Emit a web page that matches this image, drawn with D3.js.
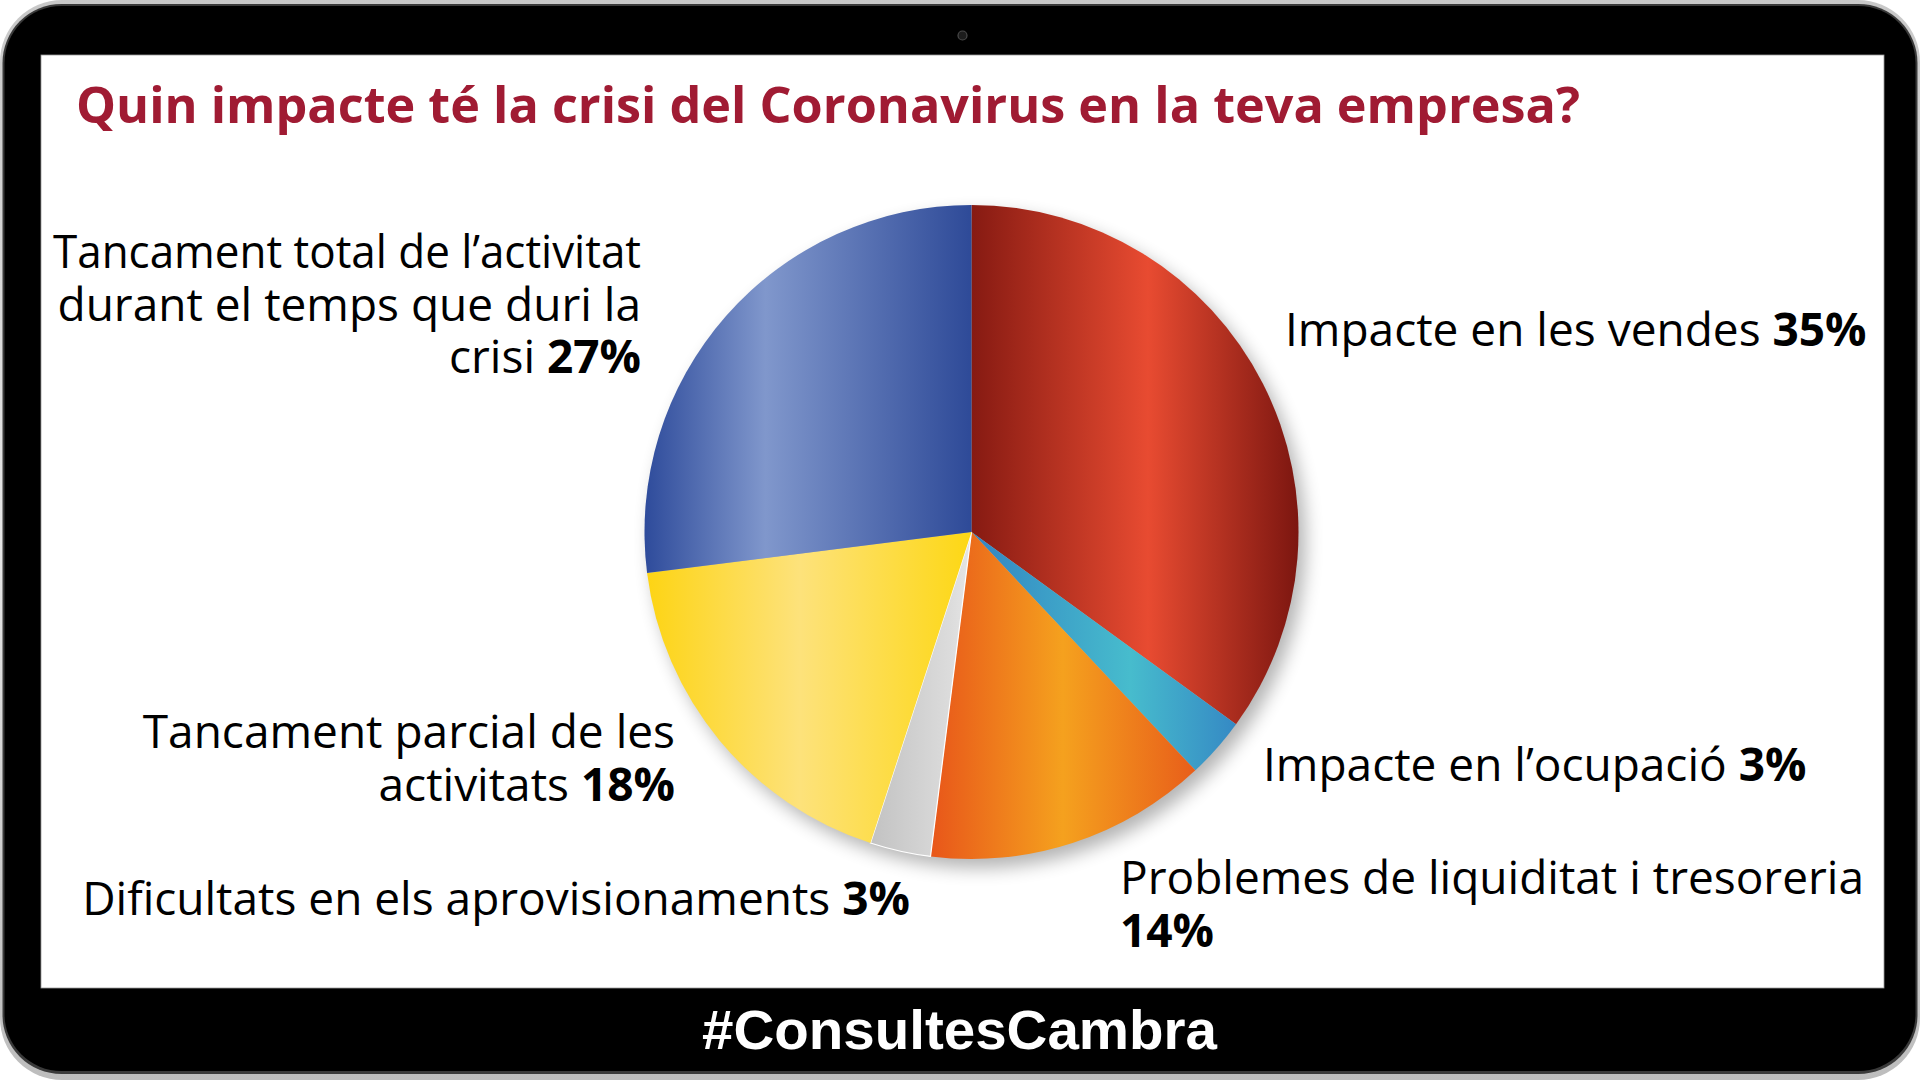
<!DOCTYPE html>
<html>
<head>
<meta charset="utf-8">
<script src="https://cdn.jsdelivr.net/npm/d3@7"></script>
<style>
  html, body { margin: 0; padding: 0; background: #ffffff; }
  svg { display: block; }
</style>
</head>
<body>
<svg id="chart" width="1920" height="1080"></svg>
<script>
// ---------- data ----------
const title = "Quin impacte té la crisi del Coronavirus en la teva empresa?";
const hashtag = "#ConsultesCambra";
const categories = [
  "Impacte en les vendes",
  "Impacte en l’ocupació",
  "Problemes de liquiditat i tresoreria",
  "Dificultats en els aprovisionaments",
  "Tancament parcial de les activitats",
  "Tancament total de l’activitat durant el temps que duri la crisi"
];
const values = [35, 3, 14, 3, 18, 27];
// how each label is broken into lines (the bold percentage follows the last piece)
const labelLines = [
  ["Impacte en les vendes "],
  ["Impacte en l’ocupació "],
  ["Problemes de liquiditat i tresoreria", ""],
  ["Dificultats en els aprovisionaments "],
  ["Tancament parcial de les", "activitats "],
  ["Tancament total de l’activitat", "durant el temps que duri la", "crisi "]
];

// ---------- layout / style ----------
const W = 1920, H = 1080;
const cx = 971.5, cy = 532, R = 327;
const labelLayout = [
  { x: 1285, y: 346, anchor: "start" },
  { x: 1263, y: 781, anchor: "start" },
  { x: 1120, y: 894, anchor: "start" },
  { x: 910,  y: 915, anchor: "end" },
  { x: 675,  y: 748, anchor: "end" },
  { x: 641,  y: 268, anchor: "end", maxWidth: 588 }
];
const lineHeight = 52.6;
const palette = [
  [["0", "#861a12"], ["0.54", "#e84b31"], ["1", "#7c1610"]],
  [["0", "#3284c2"], ["0.6", "#47bccd"], ["1", "#3589c4"]],
  [["0", "#e8561a"], ["0.5", "#f5a11e"], ["1", "#e85e1a"]],
  [["0", "#c2c2c2"], ["0.8", "#dcdcdc"], ["1", "#e6e6e6"]],
  [["0", "#fdd414"], ["0.47", "#fde27b"], ["1", "#fdd714"]],
  [["0", "#2e4b9b"], ["0.37", "#8097cc"], ["1", "#2e4a98"]]
];

const svg = d3.select("#chart");
const defs = svg.append("defs");

// ---------- tablet frame ----------
const frameGrad = defs.append("linearGradient").attr("id", "frameGrad")
  .attr("x1", 0).attr("y1", 0).attr("x2", 0).attr("y2", 1);
frameGrad.append("stop").attr("offset", 0).attr("stop-color", "#c8c8c8");
frameGrad.append("stop").attr("offset", 0.5).attr("stop-color", "#e6e6e6");
frameGrad.append("stop").attr("offset", 1).attr("stop-color", "#bdbdbd");

svg.append("rect").attr("x", 0).attr("y", 0).attr("width", W).attr("height", H)
  .attr("rx", 62).attr("fill", "url(#frameGrad)");
svg.append("rect").attr("x", 2.5).attr("y", 4).attr("width", W - 5).attr("height", H - 10)
  .attr("rx", 59).attr("fill", "#3a3a3a");
svg.append("rect").attr("x", 4.5).attr("y", 6).attr("width", W - 9).attr("height", H - 15)
  .attr("rx", 57).attr("fill", "#000");
// screen
svg.append("rect").attr("x", 41).attr("y", 55).attr("width", 1843).attr("height", 933)
  .attr("fill", "#ffffff").attr("stroke", "#9a9a9a").attr("stroke-width", 0.8);
// camera
svg.append("circle").attr("cx", 962.5).attr("cy", 35.5).attr("r", 4.5)
  .attr("fill", "#1c1c1c").attr("stroke", "#4a4a4a").attr("stroke-width", 1.2);

// ---------- title ----------
svg.append("text")
  .attr("x", 76).attr("y", 123)
  .attr("font-family", "'Open Sans', sans-serif")
  .attr("font-weight", 700)
  .attr("font-size", 50)
  .attr("fill", "#a01b33")
  .attr("textLength", 1504)
  .attr("lengthAdjust", "spacingAndGlyphs")
  .text(title);

// ---------- pie ----------
const shadow = defs.append("filter").attr("id", "shadow")
  .attr("x", "-20%").attr("y", "-20%").attr("width", "140%").attr("height", "140%");
shadow.append("feGaussianBlur").attr("in", "SourceAlpha").attr("stdDeviation", 9).attr("result", "b");
shadow.append("feOffset").attr("in", "b").attr("dx", 7).attr("dy", 9).attr("result", "o");
shadow.append("feComponentTransfer").attr("in", "o")
  .append("feFuncA").attr("type", "linear").attr("slope", 0.3);

palette.forEach((stops, i) => {
  const g = defs.append("linearGradient").attr("id", "slice" + i)
    .attr("x1", 0).attr("y1", 0).attr("x2", 1).attr("y2", 0);
  stops.forEach(s => g.append("stop").attr("offset", s[0]).attr("stop-color", s[1]));
});

const pie = d3.pie().sort(null).value(d => d);
const arcs = pie(values);
const arc = d3.arc().innerRadius(0).outerRadius(R);

const pieG = svg.append("g").attr("transform", `translate(${cx},${cy})`);
pieG.append("circle").attr("r", R).attr("fill", "#000").attr("filter", "url(#shadow)");
pieG.selectAll("path.slice")
  .data(arcs)
  .join("path")
  .attr("class", "slice")
  .attr("d", arc)
  .attr("fill", (d, i) => `url(#slice${i})`)
  .attr("stroke", (d, i) => i === 3 ? "#ffffff" : "none")
  .attr("stroke-width", 1.2);

// ---------- labels ----------
const labelG = svg.append("g")
  .attr("font-family", "'Open Sans', sans-serif")
  .attr("font-size", 46)
  .attr("fill", "#000");

categories.forEach((cat, i) => {
  const lay = labelLayout[i];
  const lines = labelLines[i];
  lines.forEach((ln, j) => {
    const t = labelG.append("text")
      .attr("x", lay.x)
      .attr("y", lay.y + j * lineHeight)
      .attr("text-anchor", lay.anchor);
    const plain = t.append("tspan").attr("xml:space", "preserve").text(ln);
    if (j === lines.length - 1) {
      t.append("tspan").attr("font-weight", 700).text(values[i] + "%");
    } else if (lay.maxWidth) {
      const w = plain.node().getComputedTextLength();
      if (w > lay.maxWidth) {
        plain.attr("textLength", lay.maxWidth).attr("lengthAdjust", "spacingAndGlyphs");
      }
    }
  });
});

// ---------- hashtag ----------
svg.append("text")
  .attr("x", 959.5).attr("y", 1049)
  .attr("text-anchor", "middle")
  .attr("font-family", "'Liberation Sans', Arial, sans-serif")
  .attr("font-weight", 700)
  .attr("font-size", 56)
  .attr("fill", "#ffffff")
  .attr("textLength", 515)
  .attr("lengthAdjust", "spacingAndGlyphs")
  .text(hashtag);
</script>
</body>
</html>
